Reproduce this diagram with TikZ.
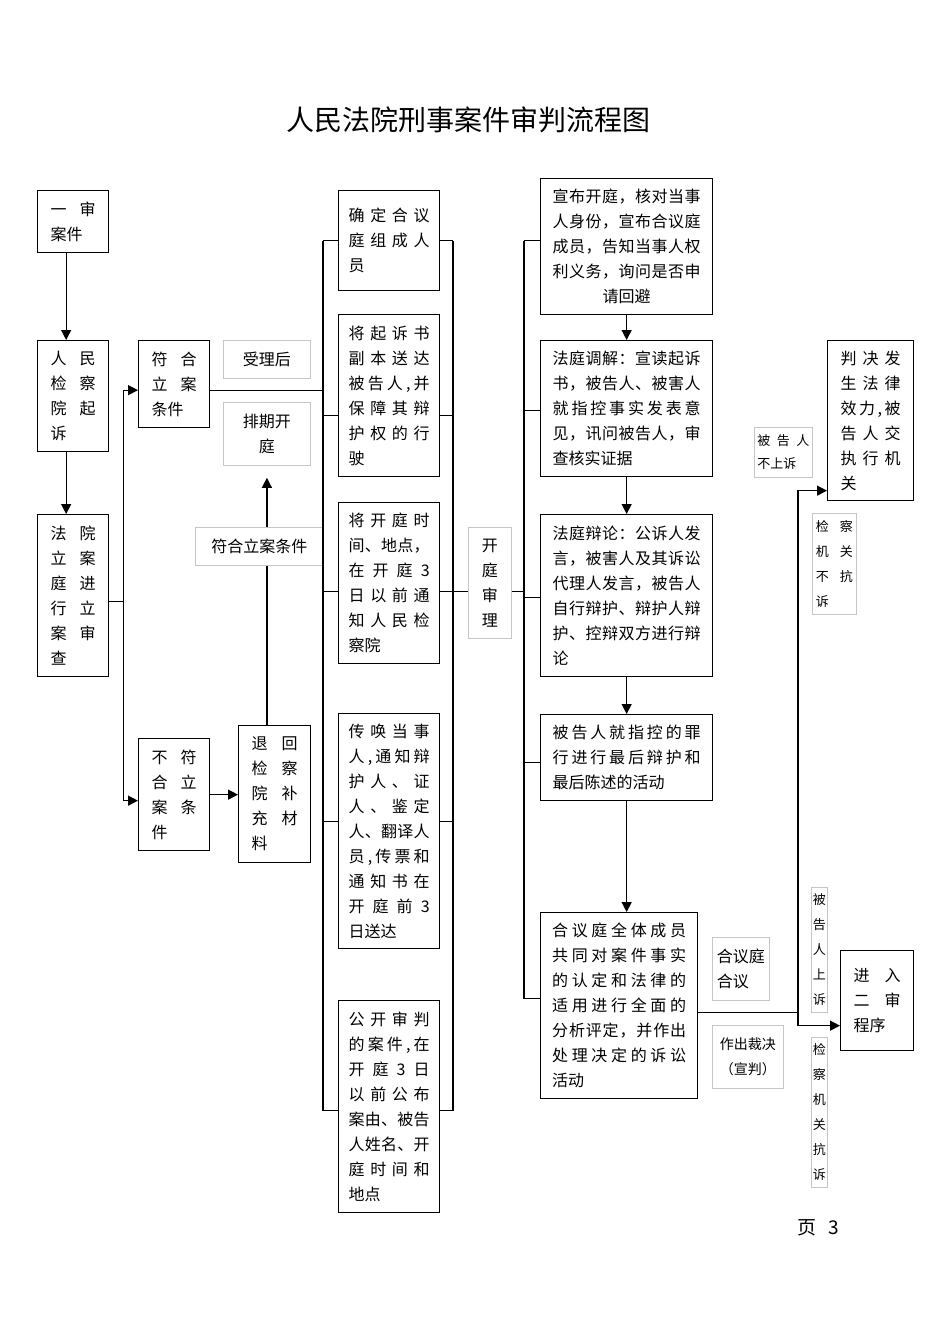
\documentclass[tikz,border=0pt]{standalone}
\usepackage{fontspec}
\setmainfont{Noto Sans CJK SC}
\usetikzlibrary{positioning,calc}
\usetikzlibrary{arrows.meta}

% spread the characters of one line over the full width
\ExplSyntaxOn
\NewDocumentCommand\spr{m}{\makebox[\linewidth][s]{\tl_map_inline:nn{#1}{##1\hfil}\unskip}}
\ExplSyntaxOff

\begin{document}
\begin{tikzpicture}[x=1pt,y=-1pt,
  box/.style={draw,line width=1.3pt,anchor=north west,align=left,inner ysep=3pt,font=\fontsize{16}{25}\selectfont},
  tag/.style={draw=gray!45,line width=0.8pt,anchor=north west,align=center,inner sep=2pt,font=\fontsize{16}{25}\selectfont},
  small/.style={font=\fontsize{13}{25}\selectfont},
  arr/.style={line width=1.3pt,-{Triangle[length=10pt,width=10pt]}},
  ln/.style={line width=1.3pt}]

\useasboundingbox (0,0) rectangle (950,1344);

% Title
\node (title) at (468,120) {\fontsize{28}{30}\selectfont 人民法院刑事案件审判流程图};

% Left column
\node[box,text width=45pt,inner xsep=13pt,minimum height=62pt] (case) at (37,190)
{\spr{一审}\\案件};
\node[box,text width=45pt,inner xsep=13pt,minimum height=111pt] (prosec) at (37,340)
{\spr{人民}\\\spr{检察}\\\spr{院起}\\诉};
\node[box,text width=45pt,inner xsep=13pt,minimum height=162pt] (court) at (37,514)
{\spr{法院}\\\spr{立案}\\\spr{庭进}\\\spr{行立}\\\spr{案审}\\查};

\node[box,text width=45pt,inner xsep=13pt,minimum height=87pt] (yes) at (138,340)
{\spr{符合}\\\spr{立案}\\条件};
\node[box,text width=45pt,inner xsep=13pt,minimum height=112pt] (no) at (138,738)
{\spr{不符}\\\spr{合立}\\\spr{案条}\\件};
\node[box,text width=46pt,inner xsep=13pt,minimum height=137pt] (back) at (238,725)
{\spr{退回}\\\spr{检察}\\\spr{院补}\\\spr{充材}\\料};

% Grey labels, left part
\node[tag,minimum width=87pt,minimum height=38pt] (accept) at (223,340) {受理后};
\node[tag,minimum width=87pt,minimum height=63pt] (sched) at (223,402) {排期开\\庭};
\node[tag,minimum width=128pt,minimum height=38pt] (okcase) at (195,527) {符合立案条件};

% Preparation column
\node[box,text width=81pt,inner xsep=10pt,minimum height=100pt] (m1) at (338,190)
{\spr{确定合议}\\\spr{庭组成人}\\员};
\node[box,text width=81pt,inner xsep=10pt,minimum height=162pt] (m2) at (338,314)
{\spr{将起诉书}\\\spr{副本送达}\\\spr{被告人,并}\\\spr{保障其辩}\\\spr{护权的行}\\驶};
\node[box,text width=81pt,inner xsep=10pt,minimum height=161pt] (m3) at (338,502)
{\spr{将开庭时}\\\spr{间、地点，}\\\spr{在开庭3}\\\spr{日以前通}\\\spr{知人民检}\\察院};
\node[box,text width=81pt,inner xsep=10pt,minimum height=235pt] (m4) at (338,713)
{\spr{传唤当事}\\\spr{人,通知辩}\\\spr{护人、证}\\\spr{人、鉴定}\\\spr{人、翻译人}\\\spr{员,传票和}\\\spr{通知书在}\\\spr{开庭前3}\\日送达};
\node[box,text width=81pt,inner xsep=10pt,minimum height=212pt] (m5) at (338,1000)
{\spr{公开审判}\\\spr{的案件,在}\\\spr{开庭3日}\\\spr{以前公布}\\\spr{案由、被告}\\\spr{人姓名、开}\\\spr{庭时间和}\\地点};

\node[tag,minimum width=43pt,minimum height=111pt] (trial) at (468,527) {开\\庭\\审\\理};

% Trial column
\node[box,text width=148pt,inner xsep=12pt,minimum height=136pt] (r1) at (540,178)
{\spr{宣布开庭，核对当事}\\\spr{人身份，宣布合议庭}\\\spr{成员，告知当事人权}\\\spr{利义务，询问是否申}\\\makebox[\linewidth]{请回避}};
\node[box,text width=148pt,inner xsep=12pt,minimum height=136pt] (r2) at (540,340)
{\spr{法庭调解：宣读起诉}\\\spr{书，被告人、被害人}\\\spr{就指控事实发表意}\\\spr{见，讯问被告人，审}\\查核实证据};
\node[box,text width=148pt,inner xsep=12pt,minimum height=162pt] (r3) at (540,514)
{\spr{法庭辩论：公诉人发}\\\spr{言，被害人及其诉讼}\\\spr{代理人发言，被告人}\\\spr{自行辩护、辩护人辩}\\\spr{护、控辩双方进行辩}\\论};
\node[box,text width=148pt,inner xsep=12pt,minimum height=86pt] (r4) at (540,714)
{\spr{被告人就指控的罪}\\\spr{行进行最后辩护和}\\最后陈述的活动};
\node[box,text width=134pt,inner xsep=11.5pt,minimum height=186pt] (r5) at (540,912)
{\spr{合议庭全体成员}\\\spr{共同对案件事实}\\\spr{的认定和法律的}\\\spr{适用进行全面的}\\\spr{分析评定，并作出}\\\spr{处理决定的诉讼}\\活动};

\node[tag,align=left,minimum width=57pt,minimum height=63pt] (delib) at (712,937) {合议庭\\合议};
\node[tag,minimum width=71pt,minimum height=63pt,font=\fontsize{14}{25}\selectfont] (verdict) at (712,1025) {作出裁决\\（宣判）};

% Outcomes
\node[box,text width=60pt,inner xsep=13pt,minimum height=160pt] (final) at (827,340)
{\spr{判决发}\\\spr{生法律}\\\spr{效力,被}\\\spr{告人交}\\\spr{执行机}\\关};
\node[box,text width=47pt,inner xsep=13pt,minimum height=100pt] (second) at (840,950)
{\spr{进入}\\\spr{二审}\\程序};

\node[tag,small,align=left,text width=52pt,inner xsep=3pt,minimum height=50pt,font=\fontsize{13}{23}\selectfont] (noapp) at (754,427)
{\spr{被告人}\\不上诉};
\node[tag,small,align=left,text width=37pt,inner xsep=3.5pt,minimum height=101pt] (noprot) at (812,513)
{\spr{检察}\\\spr{机关}\\\spr{不抗}\\诉};
\node[tag,small,inner xsep=1.5pt,minimum width=16pt,minimum height=125pt] (app) at (811,887)
{被\\告\\人\\上\\诉};
\node[tag,small,inner xsep=1.5pt,minimum width=16pt,minimum height=150pt] (prot) at (811,1037)
{检\\察\\机\\关\\抗\\诉};

% Page number
\node (page) at (818,1228) {\fontsize{19}{20}\selectfont 页\hspace{12pt}3};

% Connectors, left part
\coordinate (lb) at (323,0);
\coordinate (rb) at (453,0);
\coordinate (rb2) at (524,0);
\coordinate (vx) at (798,0);

\draw[arr] ([xshift=-7pt]case.south) -- ([xshift=-7pt]prosec.north);
\draw[arr] ([xshift=-7pt]prosec.south) -- ([xshift=-7pt]court.north);
\draw[ln] ([yshift=-6pt]court.east) -- ++(14,0) coordinate (fork);
\draw[arr] (fork) |- ([yshift=-6pt]yes.west);
\draw[arr] (fork) |- ([yshift=-6pt]no.west);
\draw[arr] (no.east) -- (no.east -| back.west);
\draw[ln] ([yshift=-6pt]yes.east) -- ([yshift=-6pt]yes.east -| lb);

% Back to the procuratorate, then scheduled again
\draw[ln] (back.north -| sched.south) -- (okcase.south -| sched.south);
\draw[arr] (okcase.north -| sched.south) -- ([yshift=-12pt]sched.south);

% Bracket round the preparation steps
\draw[ln] (m1.west -| lb) -- ([yshift=-4pt]m5.west -| lb);
\draw[ln] (m1.east -| rb) -- ([yshift=-4pt]m5.east -| rb);
\draw[ln] (m1.west) -- (m1.west -| lb);
\draw[ln] ([yshift=-20pt]m2.west) -- ([yshift=-20pt]m2.west -| lb);
\draw[ln] ([yshift=-8pt]m3.west) -- ([yshift=-8pt]m3.west -| lb);
\draw[ln] ([yshift=10pt]m4.west) -- ([yshift=10pt]m4.west -| lb);
\draw[ln] ([yshift=-4pt]m5.west) -- ([yshift=-4pt]m5.west -| lb);
\draw[ln] (m1.east) -- (m1.east -| rb);
\draw[ln] ([yshift=-20pt]m2.east) -- ([yshift=-20pt]m2.east -| rb);
\draw[ln] ([yshift=-8pt]m3.east) -- ([yshift=-8pt]m3.east -| rb);
\draw[ln] ([yshift=10pt]m4.east) -- ([yshift=10pt]m4.east -| rb);
\draw[ln] ([yshift=-4pt]m5.east) -- ([yshift=-4pt]m5.east -| rb);

% Into the trial
\coordinate (mid) at ([yshift=-8pt]m3.east);
\draw[ln] (mid -| rb) -- (mid -| trial.west);
\draw[ln] (mid -| trial.east) -- (mid -| rb2);

% Bracket round the trial steps
\draw[ln] ([yshift=6pt]r1.west -| rb2) -- ([yshift=7pt]r5.west -| rb2);
\draw[ln] ([yshift=6pt]r1.west) -- ([yshift=6pt]r1.west -| rb2);
\draw[ln] ([yshift=-2pt]r2.west) -- ([yshift=-2pt]r2.west -| rb2);
\draw[ln] ([yshift=-2pt]r3.west) -- ([yshift=-2pt]r3.west -| rb2);
\draw[ln] ([yshift=-5pt]r4.west) -- ([yshift=-5pt]r4.west -| rb2);
\draw[ln] ([yshift=7pt]r5.west) -- ([yshift=7pt]r5.west -| rb2);

\draw[arr] (r1.south) -- (r2.north);
\draw[arr] (r2.south) -- (r3.north);
\draw[arr] (r3.south) -- (r4.north);
\draw[arr] (r4.south) -- (r4.south |- r5.north);

% Judgement: final or appealed
\coordinate (toSec) at ([yshift=-25pt]second.west);
\coordinate (toFin) at ([yshift=-70pt]final.west);
\draw[ln] ([yshift=-7pt]r5.east) -- ([yshift=-7pt]r5.east -| vx);
\draw[arr] (vx |- toSec) |- (toFin);
\draw[arr] (vx |- toSec) -- (toSec);

\end{tikzpicture}
\end{document}
